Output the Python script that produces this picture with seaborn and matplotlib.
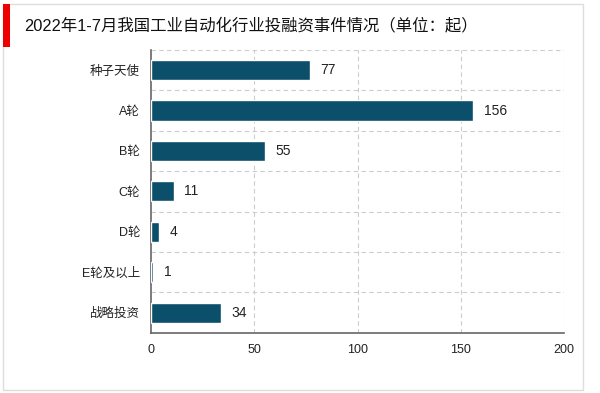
import matplotlib
matplotlib.use('Agg')
import matplotlib.pyplot as plt
import seaborn as sns
import pandas as pd
from matplotlib.patches import Rectangle

categories = ['种子天使', 'A轮', 'B轮', 'C轮', 'D轮', 'E轮及以上', '战略投资']
counts = [77, 156, 55, 11, 4, 1, 34]
title = '2022年1-7月我国工业自动化行业投融资事件情况（单位：起）'

sns.set_style('white')
plt.rcParams['font.family'] = ['Liberation Sans', 'Noto Sans CJK SC', 'DejaVu Sans']

df = pd.DataFrame({'cat': categories, 'n': counts})

fig = plt.figure(figsize=(6, 3.93), dpi=100)
ax = fig.add_axes([0.252, 0.153, 0.688, 0.72])

sns.barplot(data=df, x='n', y='cat', color='#0b4f6a', width=0.5,
            saturation=1, ax=ax, zorder=3)

for i, v in enumerate(counts):
    ax.text(v + 5, i, str(v), va='center', ha='left', fontsize=10, color='#222222')

ax.set_xlim(0, 200)
ax.set_ylim(len(categories) - 0.5, -0.5)
ax.set_xticks([0, 50, 100, 150, 200])
ax.set_xlabel('')
ax.set_ylabel('')
ax.tick_params(axis='both', labelsize=9, colors='#222222', length=0)
ax.tick_params(axis='x', pad=8)
ax.tick_params(axis='y', pad=8)

for x in [50, 100, 150, 200]:
    ax.axvline(x, color='#cccccc', linestyle=(0, (4, 3)), linewidth=0.8, zorder=1)
for y in [i + 0.5 for i in range(-1, len(categories) - 1)]:
    ax.axhline(y, color='#cccccc', linestyle=(0, (4, 3)), linewidth=0.8, zorder=1)

for s in ['top', 'right']:
    ax.spines[s].set_visible(False)
for s in ['left', 'bottom']:
    ax.spines[s].set_color('#666666')
    ax.spines[s].set_linewidth(1.2)

# outer frame and title marker
fig.patches.append(Rectangle((0.005, 0.008), 0.967, 0.982, transform=fig.transFigure,
                             fill=False, edgecolor='#dddddd', linewidth=1))
fig.patches.append(Rectangle((0.005, 0.88), 0.012, 0.11, transform=fig.transFigure,
                             facecolor='#ee0000', edgecolor='none'))
fig.text(0.04, 0.935, title, fontsize=11.8, va='center', ha='left', color='#111111')

fig.savefig('out.png', dpi=100)
